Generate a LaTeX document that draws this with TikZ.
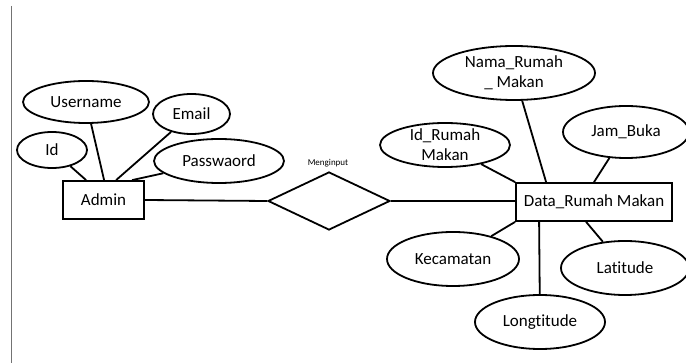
\documentclass[tikz,border=0pt]{standalone}
\usepackage{fontspec}
\setmainfont[Ligatures=NoCommon]{Carlito}
\usetikzlibrary{shapes.geometric}

\begin{document}
\begin{tikzpicture}[x=1pt,y=-1pt,line width=1.8pt,
    attr/.style={draw,ellipse,inner sep=-4pt,align=center,
      font=\fontsize{17}{20}\selectfont},
    entity/.style={draw,rectangle,inner sep=0pt,
      font=\fontsize{17}{20}\selectfont},
    rel/.style={draw,diamond,inner sep=0pt,minimum width=122,minimum height=58}]
    \useasboundingbox (0,0) rectangle (686,363);
    \draw[black!55,line width=1pt] (11.5,6) -- (11.5,363);
    % entities and relation
    \node[entity,minimum width=81,minimum height=38] (admin) at (103.5,200) {Admin};
    \node[entity,minimum width=156,minimum height=38] (data) at (594,202) {Data\_Rumah Makan};
    \node[rel] (input) at (329,201) {};
    \node[font=\fontsize{9}{10}\selectfont] (inputlabel) at (328,163) {Menginput};
    \draw (admin.east) -- (input.west);
    \draw (input.east) -- (data.west |- input.east);
    % admin attributes
    \node[attr,minimum width=70,minimum height=36] (id) at (52,150) {Id};
    \node[attr,minimum width=126,minimum height=42] (username) at (86,102) {Username};
    \node[attr,minimum width=77,minimum height=40] (email) at (191.5,114) {Email};
    \node[attr,minimum width=130,minimum height=44] (pass) at (219,161) {Passwaord};
    \draw (id) -- ([xshift=24]admin.north west);
    \draw (username) -- ([xshift=42]admin.north west);
    \draw (email) -- ([xshift=54]admin.north west);
    \draw (pass) -- ([xshift=70]admin.north west);
    % data attributes
    \node[attr,minimum width=162,minimum height=54] (nama) at (514,73) {Nama\_Rumah\\\_ Makan};
    \node[attr,minimum width=130,minimum height=44] (idrm) at (445,145) {Id\_Rumah\\Makan};
    \node[attr,minimum width=126,minimum height=52] (jam) at (626,132) {Jam\_Buka};
    \node[attr,minimum width=132,minimum height=54] (kec) at (453,259) {Kecamatan};
    \node[attr,minimum width=130,minimum height=54] (long) at (540,322) {Longtitude};
    \node[attr,minimum width=128,minimum height=54] (lat) at (625,268) {Latitude};
    \draw (nama) -- ([xshift=31]data.north west);
    \draw (idrm) -- (data.north west);
    \draw (jam) -- (data.north);
    \draw (kec) -- (data.south west);
    \draw (long) -- ([xshift=24]data.south west);
    \draw (lat) -- ([xshift=71]data.south west);
  \end{tikzpicture}
\end{document}
